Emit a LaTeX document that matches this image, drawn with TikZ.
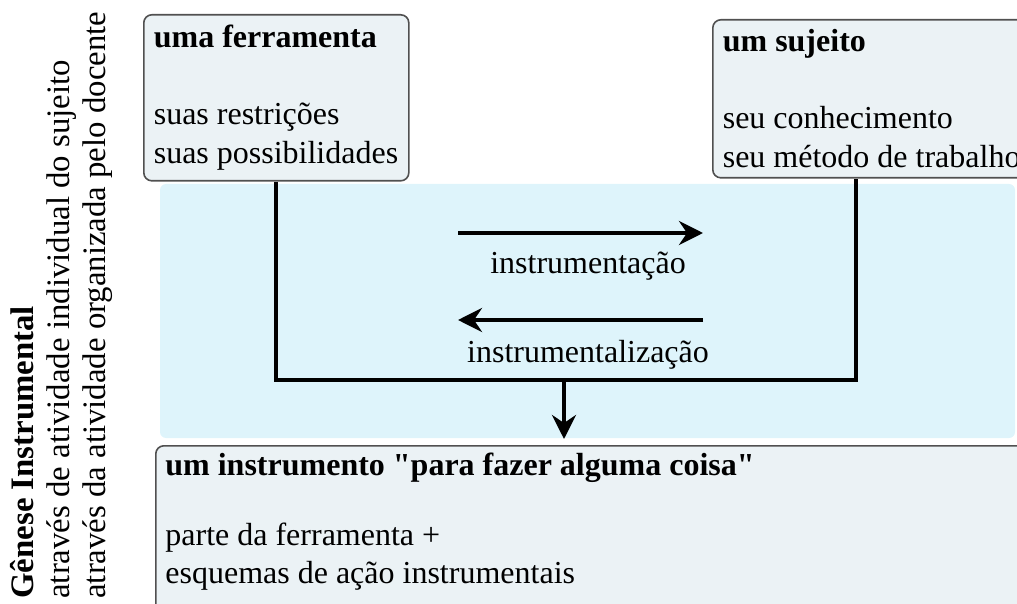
\documentclass[tikz,border=0pt]{standalone}
\usepackage{fontspec}
\setmainfont{Liberation Serif}[Ligatures=TeXOff]
\usetikzlibrary{arrows.meta}

\definecolor{boxfill}{RGB}{235,242,245}
\definecolor{bandfill}{RGB}{222,244,251}
\definecolor{boxline}{RGB}{80,80,80}

\begin{document}
\begin{tikzpicture}[x=0.5pt,y=-0.5pt,
    >={Stealth[length=12pt,width=12pt,inset=4pt]},
    every node/.style={font=\fontsize{16}{19.25}\selectfont},
    box/.style={draw=boxline,line width=0.8pt,fill=boxfill,rounded corners=4pt,
                anchor=north west,align=flush left,inner xsep=5pt,inner ysep=0pt,
                execute at begin node={\hyphenpenalty=10000\relax}},
    txt/.style={anchor=base west,inner sep=0pt},
    wire/.style={line width=2pt},
    flow/.style={->,line width=2.4pt}]

  \useasboundingbox (0,0) rectangle (1017,604);
  \clip (0,0) rectangle (1017,604);

  %--- background band (genesis area) ---
  \fill[bandfill,rounded corners=3pt] (160,184) rectangle (1015,438);

  %--- side title ---
  \node[rotate=90,anchor=north west,align=flush left,inner sep=0pt,
        font=\fontsize{16.4}{18}\selectfont] (genese) at (10,599)
      {\textbf{Gênese Instrumental}\\
       através de atividade individual do sujeito\\
       através da atividade organizada pelo docente};

  %--- tool and subject ---
  \node[box,minimum width=132.5pt,minimum height=83pt,text width=122.5pt] (tool) at (143,14)
      {\textbf{uma ferramenta}\\[19.25pt] suas restrições\\ suas possibilidades};
  \node[box,minimum width=170pt,minimum height=79pt,text width=160pt] (subject) at (712,19)
      {\textbf{um sujeito}\\[19.25pt] seu conhecimento\\ seu método de trabalho};

  %--- resulting instrument ---
  \node[box,minimum width=450pt,minimum height=100pt] (instr) at (155,445) {};
  \node[txt] (instrTitle) at (165,475)
      {\textbf{um instrumento "para fazer alguma coisa"}};
  \node[txt] (instrPart) at (165,545) {parte da ferramenta +};
  \node[txt] (instrScheme) at (165,583) {esquemas de ação instrumentais};

  %--- joining lines ---
  \coordinate (jR) at (856,380);
  \coordinate (jM) at (564,380);
  \draw[wire] (tool.south) |- (jR) -- (jR |- subject.south);
  \draw[flow] (jM) -- ([yshift=3pt]jM |- instr.north);

  %--- the two processes ---
  \coordinate (toolSide) at (458,233);
  \coordinate (subjSide) at (703,233);
  \draw[flow] (toolSide) -- (subjSide);
  \node[anchor=base] (instrumentacao) at (588,273) {instrumentação};

  \coordinate (subjBack) at (703,320);
  \coordinate (toolBack) at (458,320);
  \draw[flow] (subjBack) -- (toolBack);
  \node[anchor=base] (instrumentalizacao) at (588,362) {instrumentalização};

\end{tikzpicture}
\end{document}
